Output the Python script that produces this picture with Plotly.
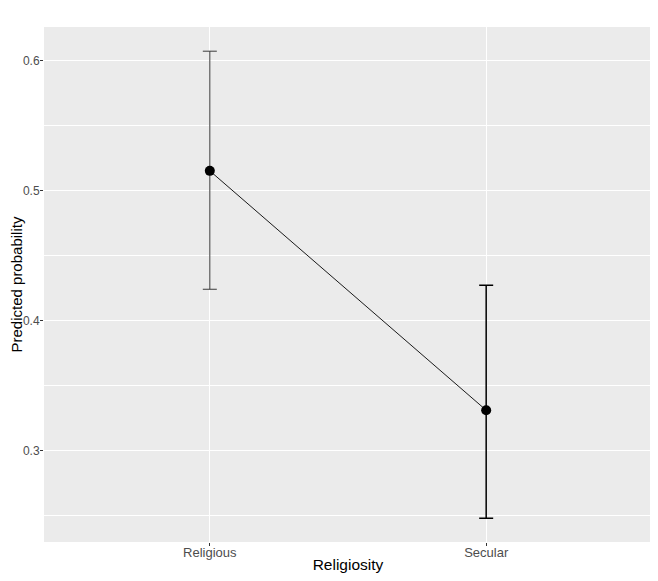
import plotly.graph_objects as go

# predicted probabilities with confidence bounds
religiosity = ["Religious", "Secular"]
predicted = [0.515, 0.331]
upper = [0.607, 0.427]
lower = [0.424, 0.248]

err_plus = [u - p for u, p in zip(upper, predicted)]
err_minus = [p - l for p, l in zip(predicted, lower)]

fig = go.Figure()

# error bars, one trace each (the religious one looks lighter in the original)
bar_colors = ["#3a3a3a", "#000000"]
bar_widths = [1, 1.5]
for i in range(len(religiosity)):
    fig.add_trace(go.Scatter(
        x=[religiosity[i]], y=[predicted[i]],
        mode="markers", marker=dict(size=1, color="rgba(0,0,0,0)"),
        error_y=dict(type="data", symmetric=False,
                     array=[err_plus[i]], arrayminus=[err_minus[i]],
                     color=bar_colors[i], thickness=bar_widths[i], width=7),
        showlegend=False, hoverinfo="skip",
    ))

fig.add_trace(go.Scatter(
    x=religiosity, y=predicted,
    mode="lines+markers",
    line=dict(color="#1a1a1a", width=1),
    marker=dict(size=10, color="black"),
    showlegend=False,
))

tick_font = dict(family="Liberation Sans, Arial, sans-serif", size=13, color="#4D4D4D")
ytick_font = dict(family="Liberation Sans, Arial, sans-serif", size=12, color="#4D4D4D")
title_font = dict(family="Liberation Sans, Arial, sans-serif", size=15.5, color="black")
ytitle_font = dict(family="Liberation Sans, Arial, sans-serif", size=15, color="black")

# the page puts the figure 8px in from the top-left corner, so it is a bit smaller
fig.update_layout(
    width=650, height=573,
    margin=dict(l=36, r=6, t=19, b=39),
    paper_bgcolor="white",
    plot_bgcolor="#EBEBEB",
    xaxis=dict(
        type="category", range=[-0.6, 1.6], automargin=False,
        showgrid=True, gridcolor="white", gridwidth=1.2,
        ticks="outside", ticklen=3, tickcolor="#333333",
        tickfont=tick_font, ticklabelstandoff=-5,
        zeroline=False, showline=False,
        title=dict(text="Religiosity", font=title_font, standoff=0),
    ),
    yaxis=dict(
        range=[0.2297, 0.6256], automargin=False,
        tickvals=[0.3, 0.4, 0.5, 0.6], ticktext=["0.3", "0.4", "0.5", "0.6"],
        showgrid=True, gridcolor="white", gridwidth=1.2,
        minor=dict(tick0=0.25, dtick=0.1, showgrid=True, gridcolor="white", gridwidth=0.6),
        ticks="outside", ticklen=3, tickcolor="#333333",
        tickfont=ytick_font, ticklabelstandoff=-2,
        zeroline=False, showline=False,
    ),
)

# y title as an annotation so it sits left of the tick labels
fig.add_annotation(
    text="Predicted probability", textangle=-90,
    xref="paper", yref="paper", x=0, y=0.5,
    xanchor="center", yanchor="middle", xshift=-28,
    showarrow=False, font=ytitle_font,
)

fig.write_html("out.html")
